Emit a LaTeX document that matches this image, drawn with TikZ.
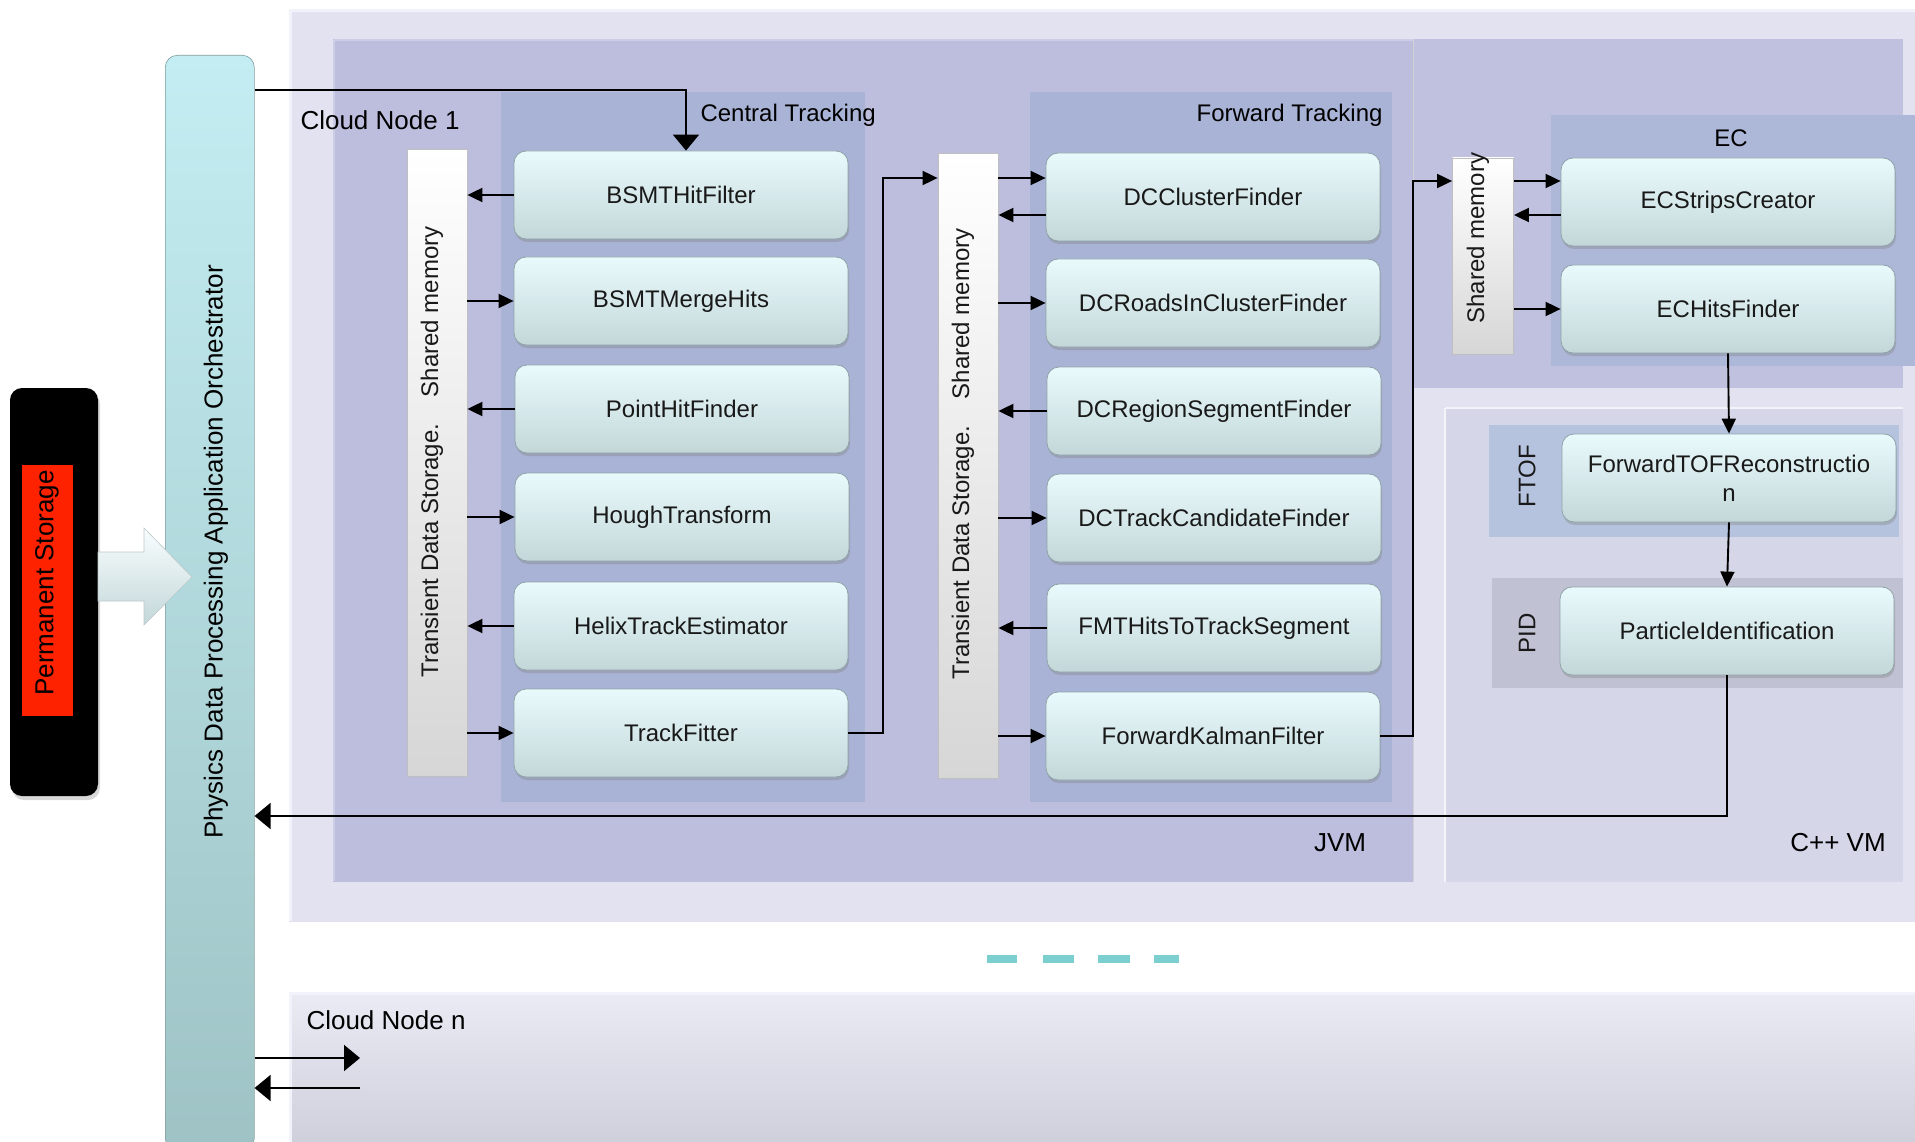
\documentclass[tikz,border=0pt]{standalone}
\usepackage{fontspec}
\setmainfont{Liberation Sans}
\usetikzlibrary{arrows.meta,shadows}

\definecolor{nodebox}{HTML}{E2E2F1}
\definecolor{nodeedge}{HTML}{F2F2FA}
\definecolor{jvmbox}{HTML}{BDBDDD}
\definecolor{jvmedge}{HTML}{CDCDE8}
\definecolor{cppbox}{HTML}{D6D6E9}
\definecolor{trackbg}{HTML}{A9B3D6}
\definecolor{ftofbg}{HTML}{B6C3DF}
\definecolor{pidbg}{HTML}{C1C1D4}
\definecolor{modtop}{HTML}{E9FAFC}
\definecolor{modbot}{HTML}{C3D7D9}
\definecolor{modedge}{HTML}{8FA3A8}
\definecolor{orchtop}{HTML}{C3EDF2}
\definecolor{orchbot}{HTML}{9FC3C5}
\definecolor{storred}{HTML}{FF2200}
\definecolor{dashteal}{HTML}{7CCFCF}

\begin{document}
\begin{tikzpicture}[x=1pt,y=-1pt,
  module/.style={draw=modedge, line width=0.8pt, rounded corners=12pt,
    top color=modtop, bottom color=modbot, minimum width=334pt,
    minimum height=88pt, align=center, text=black!90,
    font=\fontsize{24}{29}\selectfont,
    drop shadow={shadow xshift=1pt, shadow yshift=-3pt, opacity=0.35}},
  storebar/.style={draw=black!25, line width=0.8pt, top color=white,
    bottom color=black!16, minimum width=60pt, inner sep=0pt},
  barlabel/.style={rotate=90, font=\fontsize{24}{29}\selectfont, text=black!90},
  biglabel/.style={font=\fontsize{26}{31}\selectfont, text=black},
  grouplabel/.style={font=\fontsize{24}{29}\selectfont, text=black},
  conn/.style={line width=1.9pt, draw=black},
  arr/.style={conn, -{Triangle[length=15pt,width=14pt]}},
  bigarr/.style={conn, -{Triangle[length=16pt,width=26pt]}},
]
\clip (0,0) rectangle (1915,1142);
\fill[white] (0,0) rectangle (1915,1142);

% cloud node 1 and its virtual machines
\fill[nodebox] (289,10) rectangle (1925,922);
\draw[nodeedge, line width=3pt] (290,11) -- (1925,11) (290,11) -- (290,921);
\fill[jvmbox] (333,39) rectangle (1413,882);
\draw[jvmedge, line width=2.5pt] (334,40) -- (1413,40) (334,40) -- (334,881);
\fill[jvmbox!95!white] (1413,39) rectangle (1903,388);
\draw[black!18, line width=1pt] (1413,39) -- (1413,882);
\fill[cppbox] (1444,407) rectangle (1903,882);
\draw[white!70!cppbox, line width=2.5pt] (1445,408) -- (1903,408) (1445,408) -- (1445,882);

% group backgrounds
\fill[trackbg] (501,92) rectangle (865,802);
\fill[trackbg] (1030,92) rectangle (1392,802);
\fill[trackbg!95!white] (1551,115) rectangle (1925,366);
\fill[ftofbg] (1489,425) rectangle (1899,537);
\fill[pidbg] (1492,578) rectangle (1903,688);

% cloud node n
\shade[top color=nodebox!70!white, bottom color=nodebox!90!black!95] (289,992) rectangle (1925,1150);
\draw[nodeedge, line width=3pt] (290,993) -- (1925,993) (290,993) -- (290,1150);

% separator dashes between cloud nodes
\foreach \a/\b in {987/1017,1043/1074,1098/1130,1154/1179}
  \fill[dashteal] (\a,955) rectangle (\b,963);

% permanent storage
\node[fill=black, rounded corners=12pt, minimum width=88pt, minimum height=408pt,
  drop shadow={shadow xshift=2pt, shadow yshift=-4pt, opacity=0.3}] (store) at (54,592) {};
\fill[storred] (22,465) rectangle (73,716);
\node[barlabel, font=\fontsize{26}{31}\selectfont, text=black] (storelbl) at (47,583) {Permanent Storage};

% application orchestrator
\node[draw=orchbot!80!black, line width=0.6pt, top color=orchtop, bottom color=orchbot,
  rounded corners=12pt, minimum width=89pt, minimum height=1095pt, anchor=north west] (orch) at (165,55) {};
\node[barlabel, font=\fontsize{26}{31}\selectfont, text=black] (orchlbl) at (216,552)
  {Physics Data Processing Application Orchestrator};

% block arrow from storage into the orchestrator
\shade[top color=white!70!modtop, bottom color=modbot, draw=modedge!60, line width=0.6pt]
  (98,552) -- (144,552) -- (144,528) -- (192,577) -- (144,625) -- (144,601) -- (98,601) -- cycle;

% labels
\node[biglabel, anchor=west] (cn1) at (297,120) {Cloud Node 1};
\node[biglabel, anchor=west] (cnn) at (303,1020) {Cloud Node n};
\node[grouplabel, anchor=west] (ctlbl) at (697,115) {Central Tracking};
\node[grouplabel, anchor=east] (ftlbl) at (1386,115) {Forward Tracking};
\node[grouplabel] (eclbl) at (1731,138) {EC};
\node[biglabel] (jvmlbl) at (1340,843) {JVM};
\node[biglabel] (cpplbl) at (1838,843) {C++ VM};
\node[barlabel] (ftoflbl) at (1527,476) {FTOF};
\node[barlabel] (pidlbl) at (1527,633) {PID};

% transient data storage bars
\node[storebar, minimum height=627pt] (tds1) at (437,463) {};
\node[barlabel] (tds1lbl) at (432,452) {Transient Data Storage.\hspace{1.1em}Shared memory};
\node[storebar, minimum height=625pt] (tds2) at (968,466) {};
\node[barlabel] (tds2lbl) at (963,454) {Transient Data Storage.\hspace{1.1em}Shared memory};
\node[storebar, minimum width=61pt, minimum height=196pt] (sm3) at (1483,256) {};
\node[barlabel] (sm3lbl) at (1478,238) {Shared memory};

% central tracking services
\node[module] (bsmt) at (681,195) {BSMTHitFilter};
\node[module] (merge) at (681,301) {BSMTMergeHits};
\node[module] (point) at (682,409) {PointHitFinder};
\node[module] (hough) at (682,517) {HoughTransform};
\node[module] (helix) at (681,626) {HelixTrackEstimator};
\node[module] (tfit) at (681,733) {TrackFitter};

% forward tracking services
\node[module] (dccf) at (1213,197) {DCClusterFinder};
\node[module] (dcroads) at (1213,303) {DCRoadsInClusterFinder};
\node[module] (dcreg) at (1214,411) {DCRegionSegmentFinder};
\node[module] (dccand) at (1214,518) {DCTrackCandidateFinder};
\node[module] (fmt) at (1214,628) {FMTHitsToTrackSegment};
\node[module] (fkf) at (1213,736) {ForwardKalmanFilter};

% C++ services
\node[module] (ecs) at (1728,202) {ECStripsCreator};
\node[module] (ech) at (1728,309) {ECHitsFinder};
\node[module] (ftof) at (1729,478) {ForwardTOFReconstructio\\n};
\node[module] (pid) at (1727,631) {ParticleIdentification};

% data flow
\draw[bigarr] (orch.north east |- 0,90) -| ([xshift=5pt]bsmt.north);

\draw[arr] (bsmt.west) -- (tds1.east |- bsmt.west);
\draw[arr] (tds1.east |- merge.west) -- (merge.west);
\draw[arr] (point.west) -- (tds1.east |- point.west);
\draw[arr] (tds1.east |- hough.west) -- (hough.west);
\draw[arr] (helix.west) -- (tds1.east |- helix.west);
\draw[arr] (tds1.east |- tfit.west) -- (tfit.west);

\draw[arr] (tfit.east) -- ++(35,0) |- (tds2.west |- 0,178);

\draw[arr] (tds2.east |- 0,178) -- (dccf.west |- 0,178);
\draw[arr] (dccf.west |- 0,215) -- (tds2.east |- 0,215);
\draw[arr] (tds2.east |- dcroads.west) -- (dcroads.west);
\draw[arr] (dcreg.west) -- (tds2.east |- dcreg.west);
\draw[arr] (tds2.east |- dccand.west) -- (dccand.west);
\draw[arr] (fmt.west) -- (tds2.east |- fmt.west);
\draw[arr] (tds2.east |- fkf.west) -- (fkf.west);

\draw[arr] (fkf.east) -- ++(33,0) |- (sm3.west |- 0,181);

\draw[arr] (sm3.east |- 0,181) -- (ecs.west |- 0,181);
\draw[arr] (ecs.west |- 0,215) -- (sm3.east |- 0,215);
\draw[arr] (sm3.east |- ech.west) -- (ech.west);

\draw[arr] (ech.south) -- (ftof.north);
\draw[arr] (ftof.south) -- (pid.north);
\draw[bigarr] (pid.south) |- (orch.east |- 0,816);

% links to the other cloud nodes
\coordinate (nout) at (360,1058);
\coordinate (nin) at (360,1088);
\draw[bigarr] (orch.east |- nout) -- (nout);
\draw[bigarr] (nin) -- (orch.east |- nin);
\end{tikzpicture}
\end{document}
